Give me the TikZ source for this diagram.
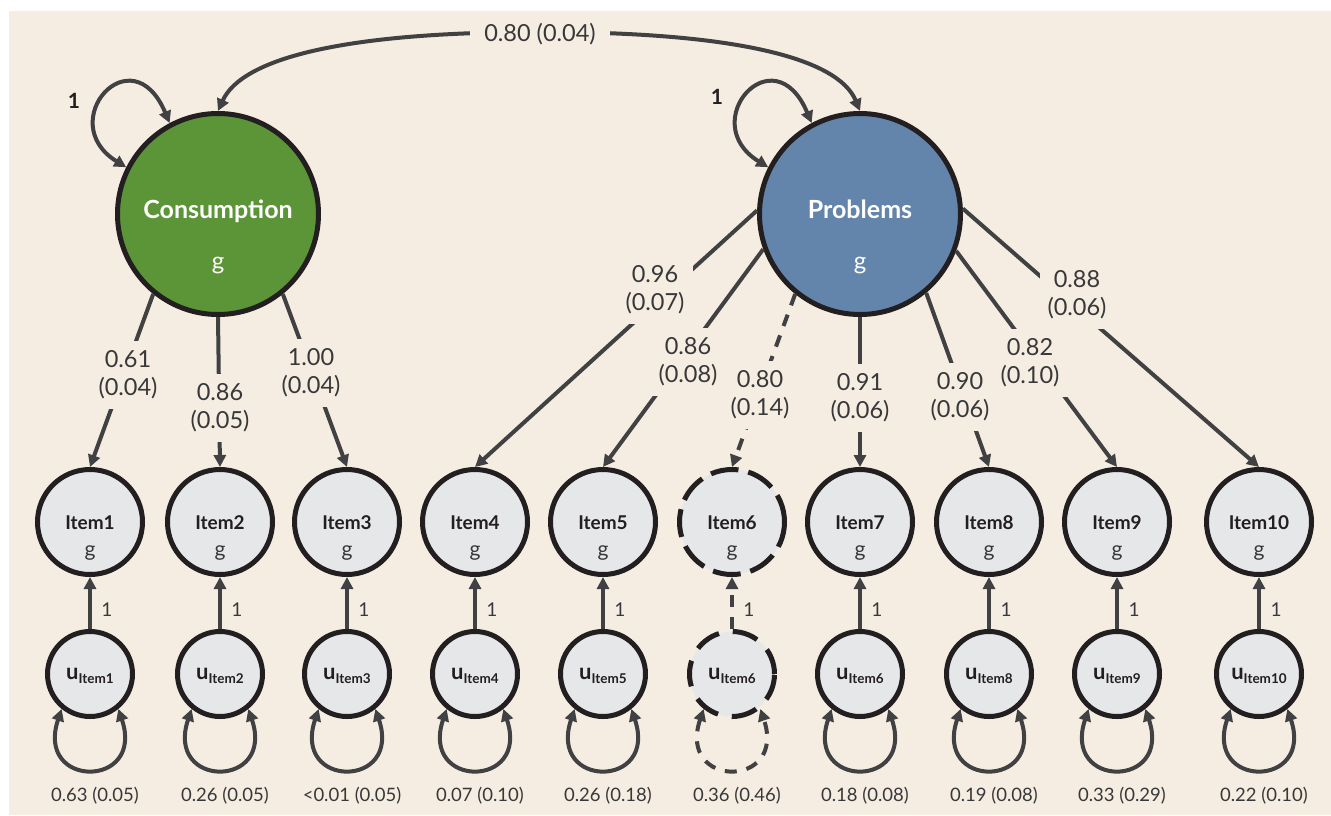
\documentclass[tikz,border=0pt]{standalone}
\usepackage{fontspec}
\setmainfont{Lato}
\usetikzlibrary{arrows.meta,calc}
\definecolor{bg}{HTML}{F5EDE1}
\definecolor{cgreen}{HTML}{5C9438}
\definecolor{pblue}{HTML}{6385AB}
\definecolor{itemfill}{HTML}{E6E7E9}
\definecolor{bord}{HTML}{231F20}
\definecolor{lin}{HTML}{414042}
\definecolor{txt}{HTML}{38383A}
\begin{document}
\begin{tikzpicture}[x=1pt,y=-1pt,
  latent/.style={circle,draw=bord,line width=5pt,minimum size=201pt,inner sep=0pt},
  itemnode/.style={circle,draw=bord,line width=5pt,fill=itemfill,minimum size=105pt,inner sep=0pt},
  unode/.style={circle,draw=bord,line width=5pt,fill=itemfill,minimum size=85pt,inner sep=0pt},
  tip/.tip={Triangle[length=12pt,width=12pt]},
  arr/.style={draw=lin,line width=4pt,-tip},
  dbl/.style={draw=lin,line width=4pt,tip-tip},
  lbl/.style={fill=bg,text=txt,font=\fontsize{23.5}{28}\selectfont,align=center,inner xsep=8pt,inner ysep=10pt},
  botlbl/.style={text=txt,font=\fontsize{18.5}{18.5}\selectfont,anchor=base},
  itemname/.style={text=bord,font=\fontsize{19}{19}\selectfont\bfseries,anchor=base},
  gtext/.style={text=txt,font=\fontsize{21}{21}\selectfont,anchor=base},
  latname/.style={text=white,font=\fontsize{25}{25}\selectfont\bfseries,anchor=base},
  latg/.style={text=white,font=\fontsize{24}{24}\selectfont,anchor=base},
  onelbl/.style={text=bord,font=\fontsize{21}{21}\selectfont\bfseries,anchor=base},
  unitlbl/.style={text=txt,font=\fontsize{19}{19}\selectfont,anchor=base},
  isolid/.style={},
  idashed/.style={dash pattern=on 28pt off 10pt},
  udashed/.style={dash pattern=on 26pt off 14pt},
  ldashed/.style={dash pattern=on 12pt off 10pt},
]
\useasboundingbox (0,0) rectangle (1331,815);
\fill[bg] (9,11) rectangle (1331,815);

% latent variables
\node[latent,fill=cgreen] (C) at (218,214) {};
\node[latent,fill=pblue] (P) at (860,214) {};
\node[latname] (Cname) at (218,218) {Consumption};
\node[latg] (Cg) at (218,269) {g};
\node[latname] (Pname) at (860,218) {Problems};
\node[latg] (Pg) at (860,269) {g};

% covariance
\coordinate (covpt) at (540,32);
\draw[dbl] (C.north) .. controls (242,58) and (345,32) .. (covpt)
  .. controls (735,32) and (838,58) .. (P.north);
\node[lbl,inner xsep=14pt] (cov) at (540,34) {0.80 (0.04)};

% latent variances
\draw[dbl] (C.153) .. controls +(-73,-45) and +(-38,-90) .. (C.118);
\draw[dbl] (P.153) .. controls +(-73,-45) and +(-38,-90) .. (P.118);
\node[onelbl] (C1) at (74,108) {1};
\node[onelbl] (P1) at (717,104) {1};

% items and residuals
\foreach \n/\x/\ut/\v/\is/\us/\ls in {
  1/90/Item1/0.63 (0.05)/isolid/isolid/isolid,
  2/220/Item2/0.26 (0.05)/isolid/isolid/isolid,
  3/347/Item3/<0.01 (0.05)/isolid/isolid/isolid,
  4/475/Item4/0.07 (0.10)/isolid/isolid/isolid,
  5/603/Item5/0.26 (0.18)/isolid/isolid/isolid,
  6/732/Item6/0.36 (0.46)/idashed/udashed/ldashed,
  7/860/Item6/0.18 (0.08)/isolid/isolid/isolid,
  8/989/Item8/0.19 (0.08)/isolid/isolid/isolid,
  9/1117/Item9/0.33 (0.29)/isolid/isolid/isolid,
  10/1259/Item10/0.22 (0.10)/isolid/isolid/isolid}{
  \node[itemnode,\is] (i\n) at (\x,522) {};
  \node[itemname] (in\n) at (\x,529) {Item\n};
  \node[gtext] (ig\n) at (\x,556) {g};
  \node[unode,\us] (u\n) at (\x,674) {};
  \node[text=bord,anchor=base] (un\n) at (\x,679)
    {\fontsize{22}{22}\selectfont\bfseries u\raisebox{-4pt}{\fontsize{13.5}{13.5}\selectfont\bfseries \ut}};
  \draw[arr,\ls] (u\n.north) -- (i\n.south);
  \node[unitlbl] (one\n) at (\x+17,616) {1};
  \draw[dbl,\ls] (u\n.231) .. controls +(-27,80) and +(27,80) .. (u\n.309);
  \node[botlbl] (v\n) at (\x+5,801) {\v};
}

% loadings: Consumption
\draw[arr] (C.231) -- (i1.north);
\node[lbl] (l1) at (128,375) {0.61\\(0.04)};
\draw[arr] (C.south) -- (i2.north);
\node[lbl] (l2) at (220,408) {0.86\\(0.05)};
\draw[arr] (C.309) -- (i3.north);
\node[lbl] (l3) at (311,373) {1.00\\(0.04)};

% loadings: Problems
\draw[arr] (P.178) -- (i4.north);
\node[lbl] (l4) at (655,290) {0.96\\(0.07)};
\draw[arr] (P.200) -- (i5.north);
\node[lbl] (l5) at (688,362) {0.86\\(0.08)};
\draw[arr,ldashed] (P.231) -- (i6.north);
\node[lbl] (l6) at (760,395) {0.80\\(0.14)};
\draw[arr] (P.south) -- (i7.north);
\node[lbl] (l7) at (860,398) {0.91\\(0.06)};
\draw[arr] (P.310) -- (i8.north);
\node[lbl] (l8) at (960,397) {0.90\\(0.06)};
\draw[arr] (P.339) -- (i9.north);
\node[lbl] (l9) at (1030,363) {0.82\\(0.10)};
\draw[arr] (P.3) -- (i10.north);
\node[lbl] (l10) at (1077,295) {0.88\\(0.06)};
\end{tikzpicture}
\end{document}
